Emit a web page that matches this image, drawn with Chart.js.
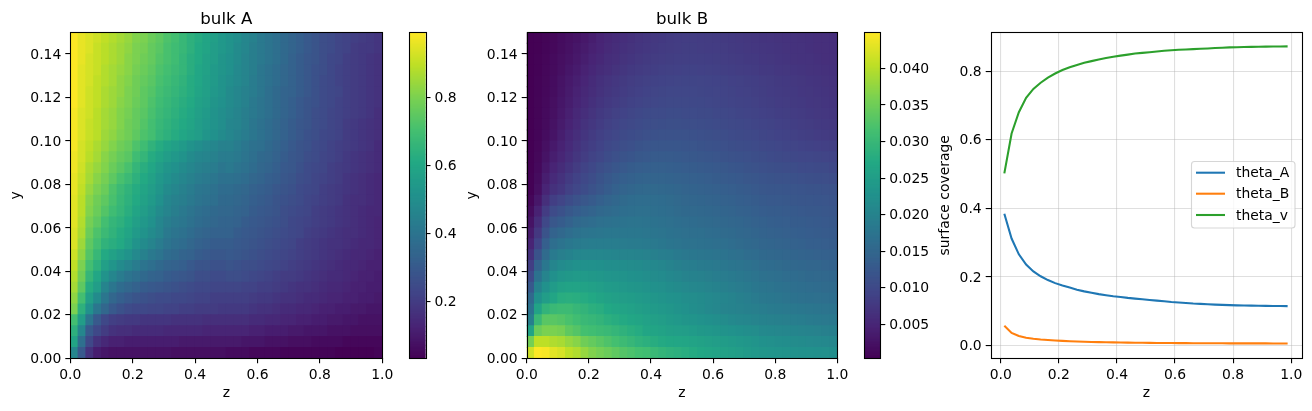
<!DOCTYPE html>
<html><head><meta charset="utf-8">
<script src="https://cdn.jsdelivr.net/npm/chart.js@4/dist/chart.umd.js"></script>
<style>html,body{margin:0;padding:0;background:#fff;width:1312px;height:411px;overflow:hidden}canvas{position:absolute;left:0;top:0}</style>
</head><body>
<canvas id="c1"></canvas><canvas id="c2"></canvas><canvas id="c3"></canvas><canvas id="c4"></canvas><canvas id="c5"></canvas>
<script>
const zCenters=[.0125,.0375,.0625,.0875,.1125,.1375,.1625,.1875,.2125,.2375,.2625,.2875,.3125,.3375,.3625,.3875,.4125,.4375,.4625,.4875,.5125,.5375,.5625,.5875,.6125,.6375,.6625,.6875,.7125,.7375,.7625,.7875,.8125,.8375,.8625,.8875,.9125,.9375,.9625,.9875];
const yCenters=[.0025,.0075,.0125,.0175,.0225,.0275,.0325,.0375,.0425,.0475,.0525,.0575,.0625,.0675,.0725,.0775,.0825,.0875,.0925,.0975,.1025,.1075,.1125,.1175,.1225,.1275,.1325,.1375,.1425,.1475];
const cellHalfHeight=.0025;
const thetaA=[.384,.312,.266,.236,.216,.202,.191,.182,.175,.169,.163,.158,.154,.15,.147,.144,.1415,.139,.137,.135,.133,.131,.129,.127,.1255,.124,.1225,.1215,.1205,.1195,.1187,.118,.1173,.117,.1165,.116,.1157,.1155,.1153,.115];
const thetaB=[.058,.037,.028,.023,.02,.018,.0165,.015,.0138,.0128,.012,.0113,.0107,.0102,.0098,.0094,.009,.0087,.0085,.0083,.008,.0078,.0076,.0075,.0073,.0072,.0071,.007,.0069,.0068,.0067,.0066,.0066,.0065,.0065,.0064,.0064,.0063,.0063,.0063];
const thetaV=[.502,.618,.68,.722,.748,.766,.781,.793,.803,.811,.818,.824,.829,.834,.838,.842,.845,.848,.851,.853,.855,.857,.859,.8605,.862,.863,.864,.865,.866,.867,.868,.869,.8695,.87,.8705,.871,.8713,.8716,.8718,.872];
// bulk A in hundredths, bottom row first
const bulkA=[
[47,30,17,11,9,8,8,8,8,8,8,8,8,7,7,7,7,7,7,7,6,6,6,5,5,5,5,4,4,4,4,4,4,4,3,3,3,3,3,4],
[59,38,24,17,14,12,12,11,11,11,11,11,11,11,10,10,10,10,10,10,10,10,9,9,9,8,8,8,7,7,7,6,6,6,6,5,5,5,5,5],
[64,47,30,24,20,17,16,16,15,15,15,15,14,14,14,14,14,13,13,13,13,13,13,12,12,11,11,11,10,10,9,9,9,8,8,8,7,7,7,7],
[70,56,40,30,24,21,20,19,19,18,18,18,18,17,17,17,17,16,16,16,16,16,16,15,15,14,14,13,13,12,12,11,11,10,10,9,9,8,8,8],
[80,64,51,41,35,30,27,25,24,24,23,23,22,22,21,21,20,20,20,19,19,19,19,18,17,17,16,15,15,14,14,13,12,12,11,11,10,10,9,9],
[83,70,57,49,41,35,32,30,28,27,26,25,25,24,24,23,22,22,21,21,21,21,21,20,19,19,18,17,17,16,15,15,14,13,13,12,12,11,11,10],
[86,75,62,56,46,41,37,35,33,31,30,29,28,27,26,25,24,24,23,23,23,23,22,22,21,21,20,19,18,17,17,16,15,14,14,13,12,12,11,11],
[88,78,66,60,52,47,43,40,38,36,34,33,31,30,29,28,26,26,25,25,26,26,25,24,23,22,21,20,20,19,18,17,16,15,15,14,13,12,12,11],
[90,80,70,64,57,53,49,46,43,40,38,36,34,33,32,30,28,28,27,27,28,27,26,26,25,24,23,22,21,20,19,18,17,16,15,14,14,13,12,12],
[92,83,73,67,61,58,55,52,48,45,42,40,37,36,34,33,31,30,29,29,30,29,28,27,26,25,24,23,22,21,20,19,18,17,16,15,14,14,13,12],
[94,85,75,70,65,63,61,57,52,49,46,43,40,38,37,35,33,32,31,31,31,30,29,28,27,26,25,24,23,21,20,19,18,17,17,16,15,14,14,13],
[94,87,77,72,68,65,62,59,55,52,49,46,42,40,39,37,35,34,33,33,33,31,30,29,28,27,26,25,24,23,21,20,19,18,17,16,16,15,14,13],
[95,88,79,75,70,66,64,61,57,54,51,47,44,42,41,39,37,36,35,34,34,33,31,30,29,28,27,26,24,23,22,21,20,19,18,17,16,15,14,13],
[95,89,81,77,73,69,66,63,59,56,53,49,46,44,42,40,38,37,36,35,35,34,33,31,30,29,28,26,25,24,23,21,20,19,18,17,16,15,14,14],
[95,89,82,78,75,71,67,64,61,58,55,51,47,45,44,42,40,39,38,36,36,35,34,32,31,30,28,27,26,25,23,22,21,20,19,17,16,16,15,14],
[96,90,84,80,77,72,68,65,62,59,56,53,49,47,45,43,41,40,39,37,37,36,35,33,32,31,29,28,27,25,24,23,21,20,19,18,17,16,15,14],
[96,91,86,82,79,75,71,68,64,61,58,54,51,49,47,45,43,42,41,39,39,38,37,35,34,32,31,29,28,26,25,23,22,21,20,18,17,16,15,14],
[97,92,87,84,81,77,74,71,66,63,60,56,53,51,49,47,45,44,43,41,42,40,39,37,35,34,32,30,29,27,25,24,23,21,20,19,18,17,16,15],
[97,93,89,86,82,79,76,74,69,66,62,59,56,54,52,49,47,46,45,43,43,42,40,38,36,35,33,31,29,28,26,25,23,22,21,19,18,17,16,15],
[98,93,90,87,84,81,78,76,72,69,65,62,59,57,55,52,50,48,47,45,45,43,41,39,38,36,34,32,30,28,27,25,24,22,21,20,19,18,17,15],
[98,94,91,89,85,83,80,78,75,72,70,66,64,62,60,58,56,53,51,49,47,45,43,41,39,37,35,33,31,29,27,26,24,23,22,20,19,18,17,16],
[98,94,91,89,86,84,81,78,76,73,70,67,65,63,61,59,56,54,52,50,47,46,44,41,39,37,35,33,31,29,28,26,25,23,22,20,19,18,17,16],
[98,94,92,89,86,84,81,79,76,74,71,68,66,64,62,60,57,55,52,50,48,46,44,42,40,38,36,34,32,30,28,26,25,23,22,21,20,19,18,16],
[99,95,92,90,87,85,82,80,77,75,72,69,67,65,63,61,58,56,53,51,49,47,45,42,40,38,36,34,32,30,28,27,25,24,22,21,20,19,18,17],
[99,95,92,90,87,85,83,80,78,75,73,70,68,66,64,62,59,57,54,52,49,47,45,43,41,38,36,34,33,31,29,27,25,24,23,21,20,19,18,17],
[99,95,93,90,88,86,83,81,78,76,74,71,69,67,65,62,60,57,55,52,50,48,46,43,41,39,37,35,33,31,29,27,25,24,22,21,20,19,18,17],
[99,95,93,91,88,86,84,82,79,77,75,72,70,68,66,63,60,58,55,53,51,48,46,44,41,39,37,35,33,31,29,27,26,24,22,21,20,19,18,17],
[99,96,93,91,89,87,85,82,80,78,76,73,71,69,66,63,61,58,56,53,51,49,46,44,42,40,38,36,33,31,29,28,26,24,23,21,20,19,18,17],
[99,96,94,91,89,87,85,83,80,79,76,74,71,69,67,64,61,59,56,54,52,49,47,44,42,40,38,36,34,32,30,28,26,25,23,22,20,19,19,18],
[99,96,94,92,90,88,86,84,81,80,77,75,72,70,67,64,62,59,57,54,52,50,47,45,42,40,38,36,34,32,30,28,26,25,23,22,21,20,19,18]
];
// bulk B in units of 0.0001, bottom row first
const bulkB=[
[418,449,445,431,422,405,396,378,364,355,347,338,329,322,315,311,303,295,289,285,280,275,270,266,262,258,254,249,244,240,236,234,232,230,228,227,226,225,224,222],
[355,405,405,396,391,378,369,351,342,333,324,315,306,298,290,284,279,274,270,268,266,262,258,254,250,247,243,240,236,232,226,224,222,220,218,216,214,213,211,208],
[262,347,360,360,356,338,329,315,311,306,302,296,289,282,276,266,263,259,254,251,249,245,241,238,235,231,228,225,222,219,213,211,209,207,205,203,201,199,197,195],
[195,302,333,333,329,320,311,302,298,293,284,279,274,268,263,257,253,249,244,240,235,232,228,225,221,217,213,209,206,203,200,198,196,194,192,190,188,186,184,182],
[173,262,293,302,306,306,298,293,284,280,271,266,262,257,252,248,244,240,236,231,226,221,217,212,208,204,202,199,197,194,190,188,186,184,182,180,178,177,175,173],
[155,226,249,266,280,283,280,276,271,264,258,254,250,247,244,240,236,233,229,226,222,219,216,212,208,205,201,197,193,188,182,180,178,175,172,170,168,167,165,164],
[128,200,226,245,258,262,262,260,256,251,246,243,240,237,235,231,227,224,220,216,212,209,207,203,200,197,193,189,186,181,176,174,172,169,166,164,162,161,159,158],
[105,172,203,225,236,241,244,243,241,238,234,232,230,227,225,222,218,215,211,207,202,200,198,194,191,189,185,182,178,174,169,167,165,163,160,158,156,155,153,152],
[85,145,180,205,215,221,226,227,226,225,222,221,220,218,216,213,210,206,202,197,192,190,188,186,183,181,177,174,171,167,163,161,159,156,154,152,150,149,147,145],
[65,118,158,185,194,200,207,209,209,208,206,205,204,203,201,199,196,193,190,186,182,181,179,177,174,173,170,167,163,160,156,154,152,150,148,146,144,143,141,139],
[48,92,137,164,173,180,186,189,190,190,190,190,189,188,187,185,183,180,177,174,172,171,170,168,166,165,162,159,156,153,150,148,146,144,142,140,138,137,135,133],
[36,76,118,144,153,162,170,174,177,179,180,181,181,181,180,179,177,175,172,169,167,166,165,163,161,159,157,154,151,148,145,143,141,139,138,136,134,133,131,129],
[26,60,99,124,133,143,153,159,163,167,170,172,173,174,174,173,172,170,167,164,162,161,159,157,155,154,151,149,146,143,140,138,136,135,133,132,130,129,127,126],
[17,45,82,104,114,125,134,141,147,153,157,161,164,166,167,167,166,164,162,158,156,155,154,152,150,148,146,143,140,137,134,133,132,130,129,127,126,125,124,122],
[10,32,64,85,94,106,116,124,131,139,146,152,157,160,162,163,162,161,158,155,151,150,148,146,144,143,140,138,135,132,129,128,127,126,124,123,122,121,120,119],
[5,21,48,66,75,88,97,106,115,124,133,140,146,150,153,155,155,154,152,149,146,145,143,141,139,137,135,133,130,127,124,123,122,121,120,119,118,117,116,115],
[5,17,40,57,68,80,90,99,108,117,125,132,137,141,144,146,147,146,145,143,140,139,137,135,133,131,129,127,124,122,119,118,116,115,114,112,111,110,109,108],
[4,14,33,48,59,71,81,91,100,109,116,122,127,132,135,138,139,139,138,136,134,133,131,129,127,125,123,121,118,116,113,111,110,108,107,105,104,103,102,100],
[4,12,27,40,51,62,73,83,91,98,106,112,117,121,125,128,130,130,130,129,127,126,124,122,120,118,116,114,112,110,107,105,103,101,100,98,97,96,94,93],
[4,10,22,34,45,57,67,77,85,92,99,105,109,113,117,120,122,122,123,122,121,120,118,116,114,112,110,108,106,104,101,99,97,95,94,92,90,89,87,86],
[4,9,18,28,40,52,62,72,80,87,93,98,102,106,109,112,114,115,116,116,115,114,113,111,109,107,105,103,101,99,96,94,92,90,88,86,84,82,80,79],
[4,9,16,25,36,47,57,67,75,82,88,93,97,101,104,107,109,110,111,111,110,109,108,106,104,103,101,99,97,95,93,91,89,87,85,83,81,79,78,76],
[4,8,15,23,33,43,53,62,70,77,83,88,92,96,99,102,104,105,106,106,105,104,103,102,100,99,97,95,93,91,89,87,85,84,82,80,78,76,75,73],
[4,8,14,21,30,39,48,57,65,72,77,82,86,90,93,96,98,100,101,101,101,100,99,98,96,95,93,91,90,88,86,84,82,81,79,77,75,74,72,71],
[4,7,13,19,28,36,45,53,61,68,73,78,82,86,89,92,94,96,97,97,97,97,96,95,94,93,91,89,88,86,84,82,80,79,77,75,74,72,71,69],
[4,7,12,18,26,34,42,50,58,65,70,75,79,83,86,88,90,92,93,94,95,95,94,93,92,91,89,88,86,85,83,81,79,77,76,74,72,71,69,68],
[4,6,11,16,23,30,37,45,52,59,64,69,73,77,80,83,85,87,88,89,90,90,89,88,87,86,85,83,82,80,78,77,75,74,72,71,69,68,66,65],
[4,6,10,15,21,27,33,40,48,54,60,64,69,72,76,79,81,83,84,86,86,86,86,85,84,83,81,80,78,77,75,74,72,71,69,68,67,65,64,63],
[4,5,9,13,19,24,30,36,44,50,56,61,65,69,72,75,78,80,81,83,84,84,83,82,82,81,79,78,76,75,73,72,71,69,68,67,65,64,63,62],
[4,5,8,12,18,22,27,33,40,48,53,58,62,66,70,73,76,78,80,82,83,83,82,81,80,79,77,76,74,73,71,70,69,68,67,66,65,64,63,62]
];
const xTickValues=[0,.2,.4,.6,.8,1];
const yTickValues=[0,.02,.04,.06,.08,.1,.12,.14];
const cbATicks=[.2,.4,.6,.8];
const cbBTicks=[.005,.01,.015,.02,.025,.03,.035,.04];
const lineXTicks=[0,.2,.4,.6,.8,1];
const lineYTicks=[0,.2,.4,.6,.8];
const rangeA=[.0324,.991], rangeB=[.00035,.04495];
const viridisStops=['#440154','#482475','#414487','#355f8d','#2a788e','#21918c','#22a884','#44bf70','#7ad151','#bddf26','#fde725'];

const rgb=h=>[1,3,5].map(i=>parseInt(h.substr(i,2),16));
function viridis(t){t=Math.min(1,Math.max(0,t))*10;const i=Math.min(9,Math.floor(t)),f=t-i,a=rgb(viridisStops[i]),b=rgb(viridisStops[i+1]);
  return 'rgb('+a.map((v,k)=>Math.round(v+(b[k]-v)*f)).join(',')+')';}
const FONT='"DejaVu Sans"';
const W=1312,H=411,TOP=32.3,BOTTOM=358.3,AXH=50,AXW=64,TITLEH=26;
const tickFont={family:FONT,size:13.9,lineHeight:1.2};
const frame={id:'frame',
  beforeDraw(c){const s=c.scales.y; if(s&&s.options.display!==false&&!s._nudged){s.getLabelItems().forEach(i=>{i.options.translation[1]+=1;});s._nudged=true;}},
  afterDraw(c){const a=c.chartArea,x=c.ctx;x.save();x.strokeStyle='#000';x.lineWidth=1.1;x.strokeRect(Math.round(a.left)+.5,Math.round(a.top)+.5,Math.round(a.right)-Math.round(a.left),Math.round(a.bottom)-Math.round(a.top));x.restore();}};
function fit(dim,size){return s=>{s[dim]=size;s.paddingLeft=s.paddingRight=s.paddingTop=s.paddingBottom=0;};}
function axis(o){return {type:'linear',position:o.position,min:o.min,max:o.max,offset:false,display:o.display===undefined?true:o.display,
  afterBuildTicks:s=>{s.ticks=o.ticks.map(v=>({value:v}));},afterFit:fit(o.dim,o.size),
  border:{display:false},
  grid:{display:true,drawOnChartArea:!!o.grid,color:'rgba(176,176,176,.4)',lineWidth:1.1,tickColor:'#000',tickWidth:1.1,tickLength:5,drawTicks:true,offset:false},
  ticks:{font:tickFont,color:'#000',padding:o.pad===undefined?4:o.pad,autoSkip:false,maxRotation:0,minRotation:0,includeBounds:false,callback:v=>v.toFixed(o.dec)},
  title:o.title?{display:true,text:o.title,color:'#000',font:tickFont,padding:o.titlePad}:{display:false}};}
function base(L,R,titled,rightW){return {responsive:false,animation:false,events:[],devicePixelRatio:1,
  layout:{padding:{left:rightW?L:L-AXW,right:rightW?W-R-rightW:W-R,top:titled?TOP-TITLEH:TOP,bottom:H-BOTTOM-AXH}}};}
function size(id){const c=document.getElementById(id);c.width=W;c.height=H;c.style.width=W+'px';c.style.height=H+'px';return c;}

function heat(id,rows,unit,range,L,R,title){
  const datasets=rows.map((row,r)=>({
    data:row.map((v,i)=>({x:zCenters[i],y:[yCenters[r]-cellHalfHeight,yCenters[r]+cellHalfHeight]})),
    backgroundColor:row.map(v=>viridis((v*unit-range[0])/(range[1]-range[0]))),
    borderWidth:0,grouped:false,barPercentage:1,categoryPercentage:1,inflateAmount:.5}));
  const o=base(L,R,true);
  o.plugins={legend:{display:false},tooltip:{enabled:false},title:{display:true,text:title,fullSize:false,color:'#000',font:{family:FONT,size:16.67,lineHeight:1.2,weight:'normal'},padding:{top:3,bottom:3}}};
  o.scales={x:axis({position:'bottom',min:0,max:1,ticks:xTickValues,dec:1,dim:'height',size:AXH,title:'z',titlePad:{top:0,bottom:6.5}}),
            y:axis({position:'left',min:0,max:.15,ticks:yTickValues,dec:2,dim:'width',size:AXW,title:'y',titlePad:{top:1.5,bottom:0}})};
  new Chart(size(id),{type:'bar',data:{datasets},options:o,plugins:[frame]});
}
function colorbar(id,range,ticks,dec,L,R){
  const n=256,data=[],colors=[];
  for(let i=0;i<n;i++){data.push({y:range[0]+(i+.5)/n*(range[1]-range[0]),x:[0,1]});colors.push(viridis((i+.5)/n));}
  const o=base(L,R,false,60);
  o.indexAxis='y';
  o.plugins={legend:{display:false},tooltip:{enabled:false},title:{display:false}};
  o.scales={y:axis({position:'right',min:range[0],max:range[1],ticks,dec,dim:'width',size:60}),
            x:{type:'linear',position:'bottom',min:0,max:1,offset:false,afterFit:fit('height',AXH),ticks:{display:false},grid:{display:false},border:{display:false}}};
  new Chart(size(id),{type:'bar',data:{datasets:[{data,backgroundColor:colors,borderWidth:0,barPercentage:1,categoryPercentage:1,inflateAmount:.5}]},options:o,plugins:[frame]});
}
const legendBox={id:'legendBox',afterDatasetsDraw(c){const x=c.ctx;x.save();
  x.beginPath();x.roundRect(1191.5,161.5,103.5,66.5,3);x.fillStyle='rgba(255,255,255,.8)';x.fill();x.strokeStyle='rgba(204,204,204,.8)';x.lineWidth=1.1;x.stroke();
  const ys=[172.7,193.7,215];
  c.data.datasets.forEach((d,i)=>{x.beginPath();x.moveTo(1196,ys[i]);x.lineTo(1225,ys[i]);x.strokeStyle=d.borderColor;x.lineWidth=2.08;x.stroke();
    x.fillStyle='#000';x.font='13.9px '+FONT;x.textBaseline='middle';x.textAlign='left';x.fillText(d.label,1236,ys[i]+1);});
  x.restore();}};
function lines(id){
  const mk=(label,vals,color)=>({label,data:vals.map((v,i)=>({x:zCenters[i],y:v})),borderColor:color,backgroundColor:color,borderWidth:2.08,pointRadius:0,tension:0,fill:false});
  const o=base(990.7,1302.3,false);
  o.plugins={legend:{display:false},tooltip:{enabled:false},title:{display:false}};
  o.scales={x:axis({position:'bottom',min:-.0344,max:1.038,ticks:lineXTicks,dec:1,dim:'height',size:AXH,grid:true,title:'z',titlePad:{top:0,bottom:6.5}}),
            y:axis({position:'left',min:-.037,max:.913,ticks:lineYTicks,dec:1,dim:'width',size:AXW,grid:true,title:'surface coverage',titlePad:{top:10,bottom:0}})};
  new Chart(size(id),{type:'line',data:{datasets:[mk('theta_A',thetaA,'#1f77b4'),mk('theta_B',thetaB,'#ff7f0e'),mk('theta_v',thetaV,'#2ca02c')]},options:o,plugins:[frame,legendBox]});
}
heat('c1',bulkA,.01,rangeA,70.3,382.3,'bulk A');
colorbar('c2',rangeA,cbATicks,1,409,425.5);
heat('c3',bulkB,.0001,rangeB,526.7,837.3,'bulk B');
colorbar('c4',rangeB,cbBTicks,3,864.3,880.3);
lines('c5');
</script>
</body></html>
